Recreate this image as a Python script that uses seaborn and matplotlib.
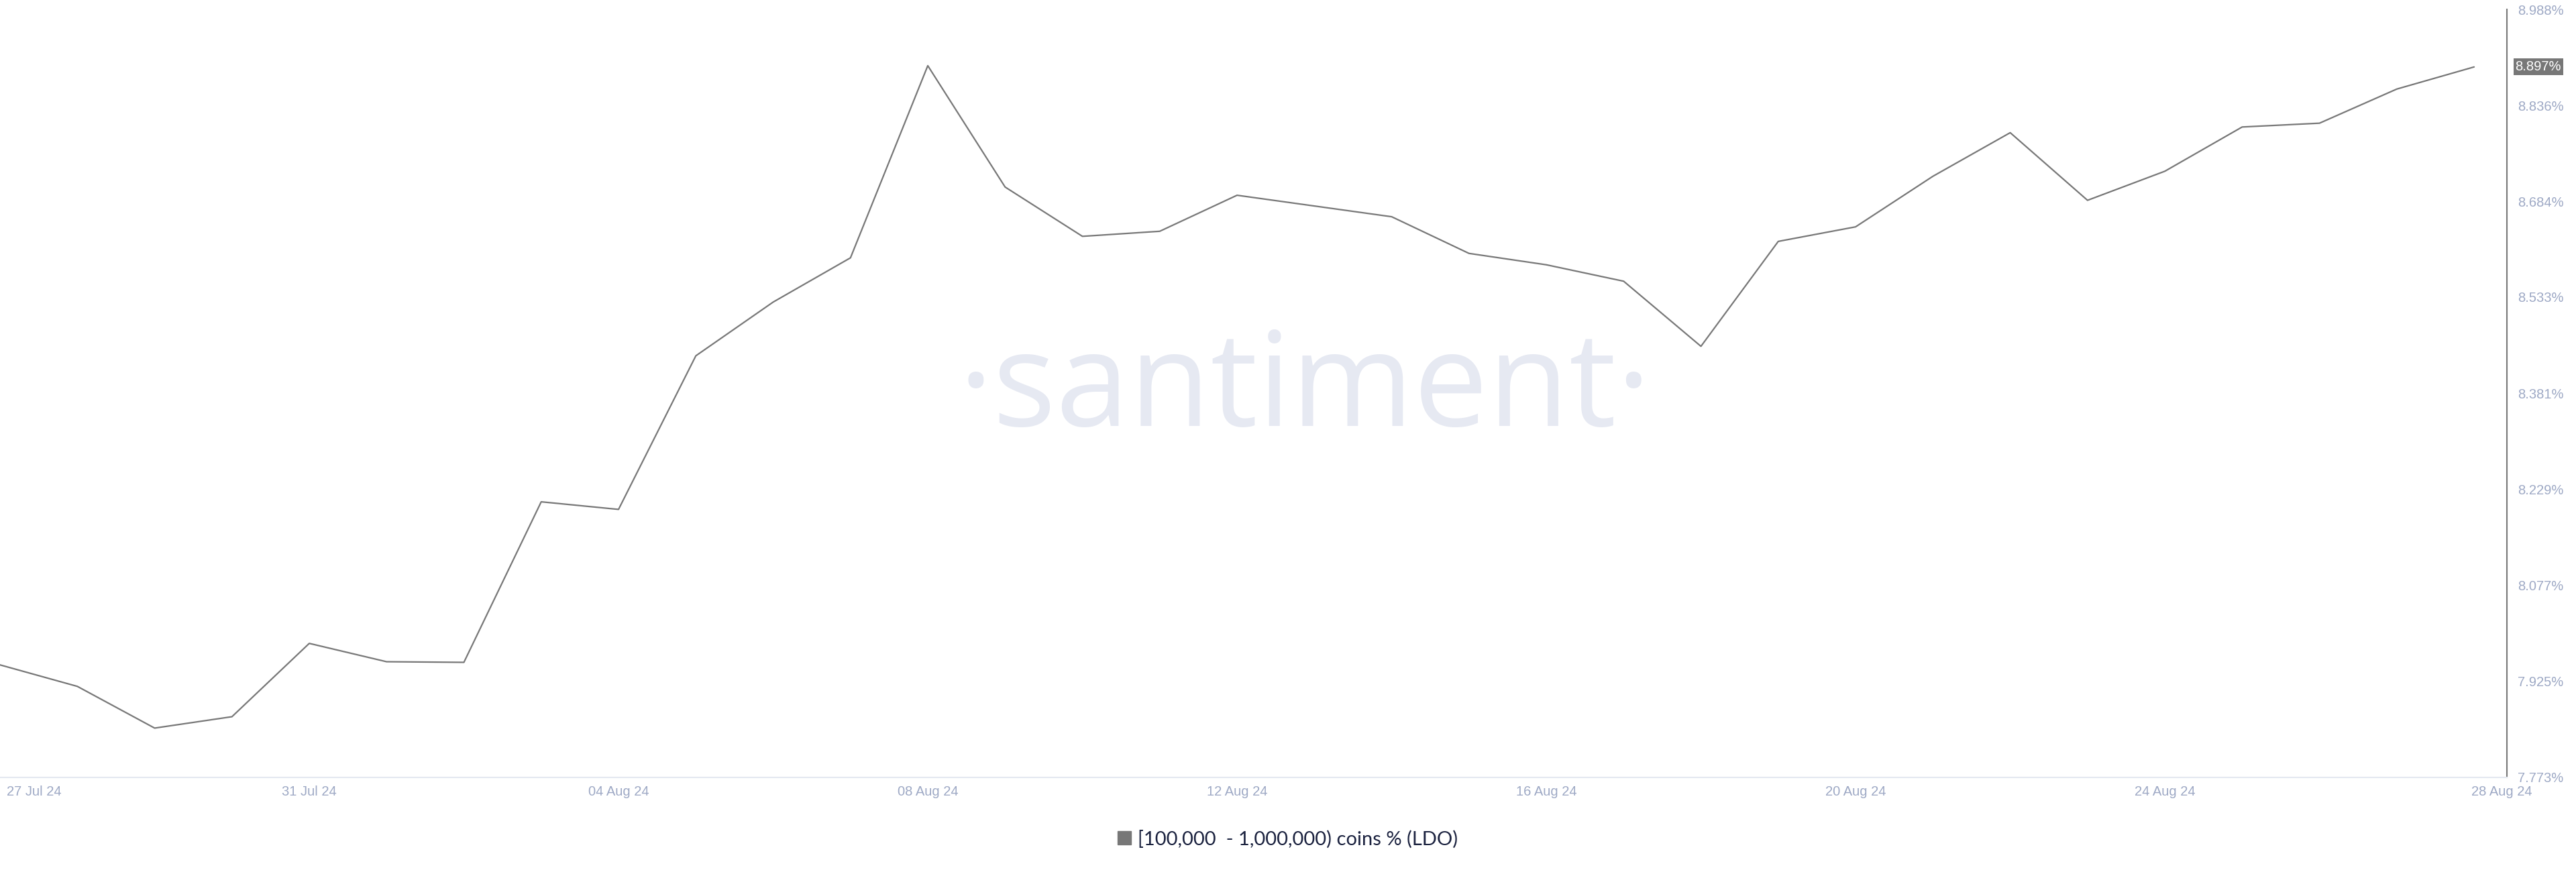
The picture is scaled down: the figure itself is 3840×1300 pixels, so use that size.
import pandas as pd
import numpy as np
import matplotlib.pyplot as plt
import matplotlib.transforms as mtransforms
from matplotlib.lines import Line2D
import seaborn as sns

# daily share of LDO supply held by 100k-1M coin addresses, %
dates = pd.date_range('2024-07-27', '2024-08-28', freq='D')
share = [7.951, 7.917, 7.851, 7.869, 7.985, 7.956, 7.955, 8.209, 8.197, 8.440,
         8.525, 8.595, 8.899, 8.707, 8.629, 8.637, 8.694, 8.677, 8.660, 8.602,
         8.584, 8.558, 8.455, 8.621, 8.644, 8.724, 8.793, 8.686, 8.732, 8.802,
         8.808, 8.862, 8.897]

y_ticks = [7.773, 7.925, 8.077, 8.229, 8.381, 8.533, 8.684, 8.836, 8.988]
y_labels = ['7.773%', '7.925%', '8.077%', '8.229%', '8.381%', '8.533%', '8.684%', '8.836%', '8.988%']
x_ticks = pd.to_datetime(['2024-07-27', '2024-07-31', '2024-08-04', '2024-08-08', '2024-08-12',
                          '2024-08-16', '2024-08-20', '2024-08-24', '2024-08-28'])
series_name = '[100,000  - 1,000,000) coins % (LDO)'
last_label = '8.897%'

sns.set_style('white')
plt.rcParams['font.family'] = ['Liberation Sans', 'DejaVu Sans']

df = pd.DataFrame({'date': dates, 'share': share})

fig = plt.figure(figsize=(38.4, 13), dpi=100)
ax = fig.add_axes([0, 0.1085, 0.9732, 0.8807])

# watermark
ax.text(0.5205, 0.4576, '·santiment·', transform=ax.transAxes, ha='center', va='baseline',
        fontsize=142, color='#e6e9f2', family=['Open Sans', 'DejaVu Sans'], fontweight='normal', zorder=0)

sns.lineplot(data=df, x='date', y='share', ax=ax, color='#777777', linewidth=1.6, zorder=3, legend=False)

ax.set_xlim(dates[0], dates[-1] + pd.Timedelta(hours=10.2))
ax.set_ylim(y_ticks[0], y_ticks[-1])
ax.set_xlabel('')
ax.set_ylabel('')

ax.yaxis.tick_right()
ax.set_yticks(y_ticks)
ax.set_yticklabels(y_labels)
ax.set_xticks(x_ticks)
ax.set_xticklabels([d.strftime('%d %b %y') for d in x_ticks])
ax.tick_params(axis='y', length=0, pad=11.5, labelsize=14.5, labelcolor='#9ea9c5')
ax.tick_params(axis='x', length=0, pad=9, labelsize=14.5, labelcolor='#9ea9c5')
ax.grid(False)

for s in ['left', 'top']:
    ax.spines[s].set_visible(False)
ax.spines['right'].set_color('#777777')
ax.spines['right'].set_linewidth(1.5)
ax.spines['bottom'].set_color('#e4e8f0')
ax.spines['bottom'].set_linewidth(1.5)

# keep edge date labels inside like the original
xl = ax.get_xticklabels()
xl[0].set_ha('left')
xl[0].set_transform(xl[0].get_transform() + mtransforms.ScaledTranslation(7 / 72, 0, fig.dpi_scale_trans))
xl[-1].set_transform(xl[-1].get_transform() + mtransforms.ScaledTranslation(30 / 72, 0, fig.dpi_scale_trans))

# current value tag
tr = mtransforms.blended_transform_factory(ax.transAxes, ax.transData)
ax.annotate(last_label, xy=(1, share[-1]), xycoords=tr, xytext=(9, 0), textcoords='offset points',
            ha='left', va='center', fontsize=14.5, color='white', annotation_clip=False,
            bbox=dict(boxstyle='square,pad=0.15', facecolor='#777777', edgecolor='none'))

handle = Line2D([], [], marker='s', linestyle='none', markersize=14, color='#777777')
fig.legend([handle], [series_name], loc='center', bbox_to_anchor=(0.4996, 0.0377), frameon=False,
           handletextpad=0.3, handlelength=0.8, prop={'family': ['Lato', 'DejaVu Sans'], 'size': 21},
           labelcolor='#1c2340')

fig.savefig('out.png', dpi=100)
